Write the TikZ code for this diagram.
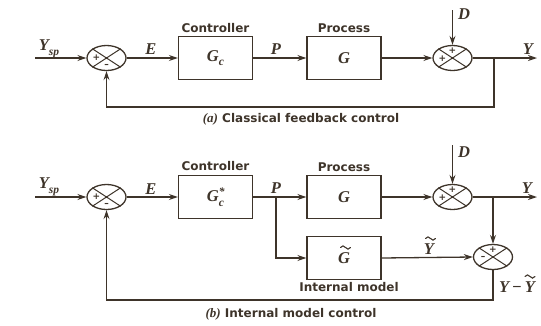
\documentclass[tikz,border=0pt]{standalone}
\usepackage{fontspec}
\setsansfont{DejaVu Sans}
\newfontfamily\mfont{Liberation Serif}
\usetikzlibrary{shapes.geometric,arrows.meta}
\definecolor{ink}{RGB}{62,52,42}
\newcommand{\lsub}[1]{\raisebox{-0.28em}{\fontsize{11.5}{12}\selectfont #1}}
\newcommand{\lsupsub}[2]{\rlap{\raisebox{0.42em}{\fontsize{11.5}{12}\selectfont #1}}\raisebox{-0.28em}{\fontsize{11.5}{12}\selectfont #2}}
\begin{document}
\begin{tikzpicture}[x=1pt,y=-1pt,
  wire/.style={draw=ink,line width=1.3pt},
  sig/.style={draw=ink,line width=1.3pt,-{Stealth[length=9pt,width=6pt]}},
  tstroke/.style={draw=ink,line width=1.1pt,line cap=round},
  blk/.style={draw=ink,line width=1.3pt,minimum width=74pt,minimum height=43pt,inner sep=0pt,
    font=\mfont\bfseries\itshape\fontsize{16.5}{18}\selectfont,text=ink},
  sumj/.style={ellipse,draw=ink,line width=1.3pt,minimum width=39pt,minimum height=25pt,inner sep=0pt},
  lbl/.style={font=\sffamily\bfseries\fontsize{12}{14}\selectfont,text=ink,inner sep=0pt},
  captext/.style={font=\sffamily\bfseries\fontsize{12}{14}\selectfont,text=ink,inner sep=0pt},
  mlbl/.style={font=\mfont\bfseries\itshape\fontsize{16.5}{18}\selectfont,text=ink,inner sep=0pt},
  sgn/.style={font=\sffamily\bfseries\fontsize{9}{10}\selectfont,text=ink,inner sep=0pt}]
\useasboundingbox (0,0) rectangle (541,325);
% ---------- (a) ----------
\coordinate (ina) at (35,58);
\node[sumj] (s1) at (106.5,58) {};
\node[blk] (gc) at (215.5,58) {G\lsub{c}};
\node[blk] (g) at (344,58) {G};
\node[sumj] (s2) at (452.5,58) {};
\coordinate (outa) at (537,58);
\coordinate (bra) at (494,58);
\coordinate (fba) at (494,107);
\coordinate (da) at (452.5,10);
\foreach \s in {s1,s2}{\draw[wire,line width=1pt] (\s.north east)--(\s.south west) (\s.north west)--(\s.south east);}
\node[sgn] (s1p) at (96.5,58) {+};
\node[sgn] (s1m) at (106.5,66) {–};
\node[sgn] (s2p) at (452.5,51) {+};
\node[sgn] (s2q) at (442.5,59) {+};
\draw[sig] (ina) -- (s1.west);
\draw[sig] (s1.east) -- (gc.west);
\draw[sig] (gc.east) -- (g.west);
\draw[sig] (g.east) -- (s2.west);
\draw[sig] (s2.east) -- (outa);
\draw[sig] (da) -- (s2.north);
\draw[sig] (bra) -- (fba) -| (s1.south);
\node[mlbl] (lysa) at (49,49) {Y\lsub{sp}};
\node[mlbl] (lea) at (151,49) {E};
\node[mlbl] (lpa) at (276,49) {P};
\node[mlbl] (lya) at (528,49) {Y};
\node[mlbl] (lda) at (464,14) {D};
\node[lbl] (ctla) at (215.5,28) {Controller};
\node[lbl] (proa) at (344,28) {Process};
\node[captext] (capa) at (301,119) {{\mfont\bfseries\itshape\fontsize{13}{14}\selectfont(a)} Classical feedback control};
% ---------- (b) ----------
\coordinate (inb) at (35,197);
\node[sumj] (t1) at (106.5,197) {};
\node[blk] (gcb) at (215.5,197) {G\lsupsub{*}{c}};
\node[blk] (gb) at (344,197) {G};
\node[blk] (gt) at (344,258) {G};
\node[sumj] (t2) at (452.5,197) {};
\node[sumj] (t3) at (493,257) {};
\coordinate (outb) at (537,197);
\coordinate (brb) at (493,197);
\coordinate (pb) at (276,197);
\coordinate (fbb) at (493,300);
\coordinate (db) at (452.5,145);
\foreach \s in {t1,t2,t3}{\draw[wire,line width=1pt] (\s.north east)--(\s.south west) (\s.north west)--(\s.south east);}
\node[sgn] (t1p) at (96.5,197) {+};
\node[sgn] (t1m) at (106.5,205) {–};
\node[sgn] (t2p) at (452.5,190) {+};
\node[sgn] (t2q) at (442.5,198) {+};
\node[sgn] (t3p) at (493,250) {+};
\node[sgn] (t3m) at (483,258) {–};
\draw[sig] (inb) -- (t1.west);
\draw[sig] (t1.east) -- (gcb.west);
\draw[sig] (gcb.east) -- (gb.west);
\draw[sig] (pb) |- (gt.west);
\draw[sig] (gb.east) -- (t2.west);
\draw[sig] (t2.east) -- (outb);
\draw[sig] (db) -- (t2.north);
\draw[sig] (brb) -- (t3.north);
\draw[sig] (gt.east) -- (t3.west);
\draw[sig] (t3.south) -- (fbb) -| (t1.south);
\node[mlbl] (lysb) at (49,187) {Y\lsub{sp}};
\node[mlbl] (leb) at (151,189) {E};
\node[mlbl] (lpb) at (276,188) {P};
\node[mlbl] (lyb) at (527,188) {Y};
\node[mlbl] (ldb) at (464,152) {D};
\node[mlbl] (lyt) at (429,249) {Y};
\node[mlbl] (lyd) at (517,287) {Y\,−\,Y};
% tildes
\coordinate (tg) at (340.5,247.5);
\coordinate (ty) at (425.5,238.5);
\coordinate (td) at (525,276.5);
\foreach \c in {tg,ty,td}{\draw[tstroke] (\c) sin ++(2.5,-1.6) cos ++(2.5,1.6) sin ++(2.5,1.6) cos ++(2.5,-1.6);}
\node[lbl] (ctlb) at (215.5,166) {Controller};
\node[lbl] (prob) at (344,167) {Process};
\node[lbl] (imod) at (349,287) {Internal model};
\node[captext] (capb) at (291,314) {{\mfont\bfseries\itshape\fontsize{13}{14}\selectfont(b)} Internal model control};
\end{tikzpicture}
\end{document}
